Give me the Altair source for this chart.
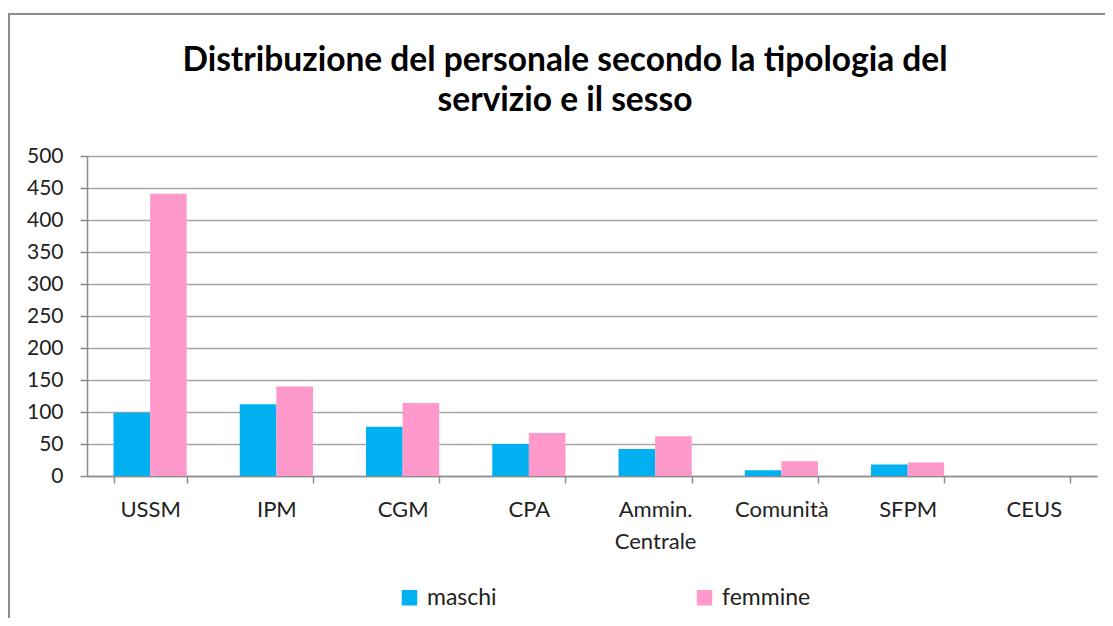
import altair as alt
import pandas as pd

categories = ["USSM", "IPM", "CGM", "CPA", "Ammin. Centrale", "Comunità", "SFPM", "CEUS"]
maschi = [99, 112, 77, 50, 42, 9, 18, 0]
femmine = [441, 140, 114, 67, 62, 23, 21, 0]
series = ["maschi", "femmine"]
colors = ["#00B0F0", "#FF99CC"]
y_ticks = [0, 50, 100, 150, 200, 250, 300, 350, 400, 450, 500]
title_lines = ["Distribuzione del personale secondo la tipologia del", "servizio e il sesso"]

rows = []
for c, m, f in zip(categories, maschi, femmine):
    rows.append({"servizio": c, "sesso": "maschi", "valore": m})
    rows.append({"servizio": c, "sesso": "femmine", "valore": f})
df = pd.DataFrame(rows)

FONT = "Lato"

bars = alt.Chart(df).mark_bar().encode(
    x=alt.X("servizio:N", sort=categories, title=None,
            scale=alt.Scale(paddingInner=0.42, paddingOuter=0.21),
            axis=alt.Axis(labelAngle=0, tickBand="extent", tickSize=7, tickColor="#8c8c8c",
                          domainColor="#8c8c8c", domainWidth=1.5, tickWidth=1.5,
                          labelFontSize=22, labelFont=FONT, labelColor="#222222",
                          labelPadding=16, labelLineHeight=32,
                          labelExpr="split(datum.label, ' ')")),
    xOffset=alt.XOffset("sesso:N", sort=series),
    y=alt.Y("valore:Q", title=None,
            scale=alt.Scale(domain=[0, 500], nice=False),
            axis=alt.Axis(values=y_ticks, tickSize=7, tickColor="#8c8c8c", tickWidth=1.5,
                          domainColor="#8c8c8c", domainWidth=1.5,
                          gridColor="#a6a6a6", gridWidth=1.5,
                          labelFontSize=21, labelFont=FONT, labelColor="#222222",
                          labelPadding=17)),
    color=alt.Color("sesso:N", sort=series,
                    scale=alt.Scale(domain=series, range=colors),
                    legend=alt.Legend(title=None, orient="none", legendX=311, legendY=430,
                                      direction="horizontal", symbolType="square",
                                      symbolSize=240, symbolStrokeWidth=0,
                                      labelFontSize=23, labelFont=FONT, labelColor="#222222",
                                      labelOffset=6, columnPadding=196)),
)

frame = alt.Chart(pd.DataFrame({"a": [0]})).mark_rect(
    fill=None, stroke="#8c8c8c", strokeWidth=2
).encode(x=alt.value(-78), y=alt.value(-142), x2=alt.value(1200), y2=alt.value(700))

chart = alt.layer(frame, bars).properties(
    width=1010, height=320,
    padding={"left": 79, "top": 148, "right": 8, "bottom": 142},
    autosize=alt.AutoSizeParams(type="none"),
    title=alt.TitleParams(title_lines, fontSize=33.5, font=FONT, fontWeight="bold",
                          anchor="middle", lineHeight=40, offset=-105, dx=-27, color="#000000"),
).configure_view(stroke=None)

chart.save("out.html", embed_options={"renderer": "svg", "actions": False})
